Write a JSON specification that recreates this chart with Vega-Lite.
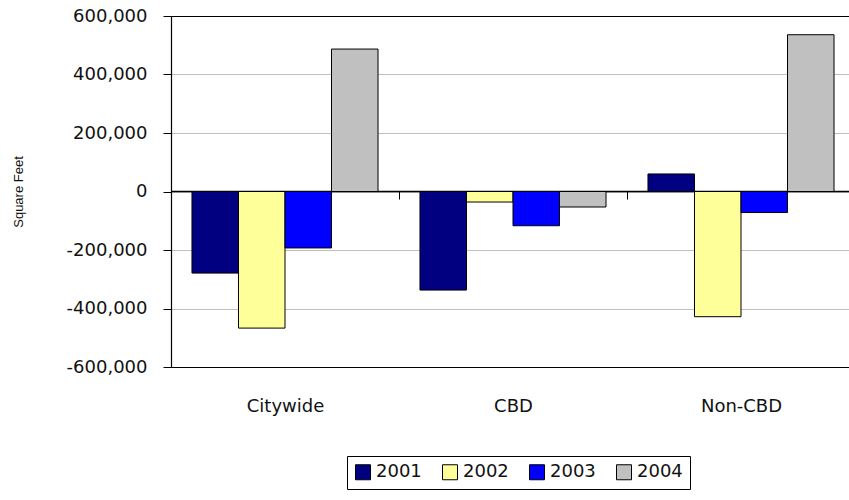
{
  "$schema": "https://vega.github.io/schema/vega-lite/v6.json",
  "width": 684,
  "height": 351,
  "autosize": {"type": "none"},
  "padding": {"left": 171, "top": 16, "right": 0, "bottom": 133},
  "background": "white",
  "config": {"view": {"stroke": null}, "font": "DejaVu Sans"},
  "data": {
    "values": [
      {"area": "Citywide", "year": "2001", "value": -279000},
      {"area": "Citywide", "year": "2002", "value": -467000},
      {"area": "Citywide", "year": "2003", "value": -193000},
      {"area": "Citywide", "year": "2004", "value": 487000},
      {"area": "CBD", "year": "2001", "value": -337000},
      {"area": "CBD", "year": "2002", "value": -36000},
      {"area": "CBD", "year": "2003", "value": -117000},
      {"area": "CBD", "year": "2004", "value": -53000},
      {"area": "Non-CBD", "year": "2001", "value": 60000},
      {"area": "Non-CBD", "year": "2002", "value": -428000},
      {"area": "Non-CBD", "year": "2003", "value": -72000},
      {"area": "Non-CBD", "year": "2004", "value": 536000}
    ]
  },
  "mark": {"type": "bar", "stroke": "black", "strokeWidth": 1},
  "encoding": {
    "x": {
      "field": "area",
      "type": "nominal",
      "sort": ["Citywide", "CBD", "Non-CBD"],
      "scale": {"paddingInner": 0.184, "paddingOuter": 0.092},
      "axis": {
        "title": null,
        "labelAngle": 0,
        "offset": -176,
        "domainColor": "black",
        "domainWidth": 1.5,
        "tickColor": "black",
        "tickSize": 8,
        "tickOffset": 114,
        "labelOffset": -114,
        "labelPadding": 198,
        "labelFontSize": 18,
        "labelColor": "#111"
      }
    },
    "xOffset": {
      "field": "year",
      "type": "nominal",
      "scale": {"paddingInner": 0, "paddingOuter": 0}
    },
    "y": {
      "field": "value",
      "type": "quantitative",
      "scale": {"domain": [-600000, 600000], "nice": false},
      "axis": {
        "title": "Square Feet",
        "values": [-600000, -400000, -200000, 0, 200000, 400000, 600000],
        "format": ",d",
        "labelExpr": "replace(datum.label, '\u2212', '-')",
        "grid": true,
        "gridColor": {
          "condition": {"test": "datum.value === 600000 || datum.value === -600000", "value": "black"},
          "value": "#c0c0c0"
        },
        "gridWidth": 1.2,
        "domainColor": "black",
        "domainWidth": 1.2,
        "tickColor": "black",
        "tickSize": 8,
        "labelFontSize": 18,
        "labelColor": "#111",
        "labelPadding": 16,
        "titleFont": "Liberation Sans",
        "titleFontSize": 13,
        "titleFontWeight": "normal",
        "titleColor": "#111",
        "titleX": -146
      }
    },
    "color": {
      "field": "year",
      "type": "nominal",
      "scale": {
        "domain": ["2001", "2002", "2003", "2004"],
        "range": ["#000080", "#FFFF99", "#0000FF", "#C0C0C0"]
      },
      "legend": {
        "title": null,
        "orient": "none",
        "legendX": 176,
        "legendY": 440,
        "direction": "horizontal",
        "strokeColor": "black",
        "padding": 7,
        "symbolType": "square",
        "symbolSize": 225,
        "symbolStrokeColor": "black",
        "symbolStrokeWidth": 1,
        "symbolOpacity": 1,
        "labelFontSize": 18,
        "labelColor": "#111",
        "labelOffset": 4,
        "columnPadding": 18
      }
    }
  }
}
